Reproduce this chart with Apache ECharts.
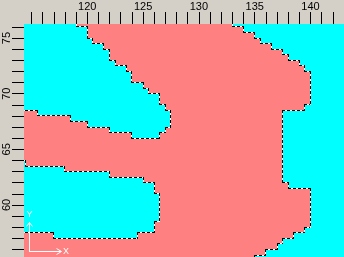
<!DOCTYPE html>
<html><head><meta charset="utf-8">
<script src="https://cdn.jsdelivr.net/npm/echarts@6/dist/echarts.min.js"></script>
<style>html,body{margin:0;padding:0;background:#d4d0c8;}#c{width:344px;height:257px;}</style>
</head><body><div id="c"></div>
<script>
// Row south latitudes (0.5 degree rows, top to bottom)
const rowSouth = [76.0,75.5,75.0,74.5,74.0,73.5,73.0,72.5,72.0,71.5,71.0,70.5,70.0,69.5,69.0,68.5,68.0,67.5,67.0,66.5,66.0,65.5,65.0,64.5,64.0,63.5,63.0,62.5,62.0,61.5,61.0,60.5,60.0,59.5,59.0,58.5,58.0,57.5,57.0,56.5,56.0,55.5,55.0];
// Western cyan run per row (null = none)
const leftCyanFrom = [114,114,114,114,114,114,114,114,114,114,114,114,114,114,114,114,115.5,118.5,120,122,124,null,null,null,null,114,114,114,114,114,114,114,114,114,114,114,114,114,117,null,null,null,null];
const leftCyanTo   = [119,120,120,120.5,121.5,122,122,122.5,123.5,124,124,125,125.5,126.5,126.5,127,127.5,127.5,127.5,127,126.5,null,null,null,null,114.5,118,122,125,126,126,126.5,126.5,126.5,126.5,126.5,126,126,124.5,null,null,null,null];
// Eastern cyan run starts (extends to east edge)
const rightCyanFrom = [133,134,135,135.5,136.5,137.5,138,139,139.5,140,140,140,140,140,140,139.5,137.5,137.5,137.5,137.5,137.5,137.5,137.5,137.5,137.5,137.5,137.5,137.5,137.5,138,140,140,140,140,140,140,140,139.5,138.5,137.5,137,136,135];
const lonWest = 114, lonEast = 143, cellStep = 0.5;
const xTicks = [115,116,117,118,119,120,121,122,123,124,125,126,127,128,129,130,131,132,133,134,135,136,137,138,139,140,141,142];
const xLabels = [120,125,130,135,140];
const yTicks = [56,57,58,59,60,61,62,63,64,65,66,67,68,69,70,71,72,73,74,75,76];
const yLabels = [60,65,70,75];
const classColors = ['#ff8080', '#00ffff'];

// build cell classes
const nCols = Math.round((lonEast - lonWest) / cellStep);
const cls = rowSouth.map((s, r) => {
  const row = [];
  for (let c = 0; c < nCols; c++) {
    const lon = lonWest + c * cellStep + cellStep / 2;
    let cy = lon > rightCyanFrom[r];
    if (leftCyanFrom[r] !== null && lon > leftCyanFrom[r] && lon < leftCyanTo[r]) cy = true;
    row.push(cy ? 1 : 0);
  }
  return row;
});
// fill runs
const fillData = [];
cls.forEach((row, r) => {
  let start = 0;
  for (let c = 1; c <= nCols; c++) {
    if (c === nCols || row[c] !== row[start]) {
      fillData.push([lonWest + start * cellStep, lonWest + c * cellStep, rowSouth[r], rowSouth[r] + cellStep, row[start]]);
      start = c;
    }
  }
});
// boundary segments
const edgeData = [];
for (let r = 0; r < rowSouth.length - 1; r++) {
  let c = 0;
  while (c < nCols) {
    if (cls[r][c] !== cls[r + 1][c]) {
      let e = c;
      while (e < nCols && cls[r][e] !== cls[r + 1][e]) e++;
      edgeData.push([lonWest + c * cellStep, rowSouth[r], lonWest + e * cellStep, rowSouth[r]]);
      c = e;
    } else c++;
  }
}
for (let c = 0; c < nCols - 1; c++) {
  let r = 0;
  while (r < rowSouth.length) {
    if (cls[r][c] !== cls[r][c + 1]) {
      let e = r;
      while (e < rowSouth.length && cls[e][c] !== cls[e][c + 1]) e++;
      const lon = lonWest + (c + 1) * cellStep;
      edgeData.push([lon, rowSouth[r] + cellStep, lon, rowSouth[e - 1]]);
      r = e;
    } else r++;
  }
}

const FONT = 'Liberation Sans';
const chart = echarts.init(document.getElementById('c'), null, {renderer: 'canvas'});
chart.setOption({
  animation: false,
  backgroundColor: '#d4d0c8',
  grid: {left: 24, top: 24, right: 0, bottom: 0, containLabel: false},
  xAxis: {
    type: 'value', position: 'top', min: 114.335, max: 142.996,
    axisLine: {show: false}, splitLine: {show: false},
    axisTick: {show: true, length: 12, customValues: xTicks, lineStyle: {color: '#000', width: 1}},
    axisLabel: {customValues: xLabels, margin: 17, verticalAlign: 'middle', color: '#000', fontFamily: FONT, fontSize: 11}
  },
  yAxis: {
    type: 'value', min: 55.3284, max: 76.2624,
    axisLine: {show: false}, splitLine: {show: false},
    axisTick: {show: true, length: 12, customValues: yTicks, lineStyle: {color: '#000', width: 1}},
    axisLabel: {customValues: yLabels, rotate: 90, margin: 17, align: 'center', verticalAlign: 'middle', color: '#000', fontFamily: FONT, fontSize: 11}
  },
  series: [{
    type: 'custom', clip: true, data: fillData,
    renderItem: (params, api) => {
      const p0 = api.coord([api.value(0), api.value(3)]);
      const p1 = api.coord([api.value(1), api.value(2)]);
      const x0 = Math.floor(p0[0]), x1 = Math.floor(p1[0]);
      const y0 = Math.floor(p0[1]), y1 = Math.floor(p1[1]);
      return {type: 'rect', shape: {x: x0, y: y0, width: x1 - x0, height: y1 - y0}, style: {fill: classColors[api.value(4)], stroke: null}};
    }
  }, {
    type: 'custom', clip: true, data: edgeData,
    renderItem: (params, api) => {
      const a = api.coord([api.value(0), api.value(1)]);
      const b = api.coord([api.value(2), api.value(3)]);
      let shape;
      if (api.value(1) === api.value(3)) {
        const y = Math.floor(a[1]) + 0.5;
        shape = {x1: Math.floor(Math.min(a[0], b[0])), y1: y, x2: Math.floor(Math.max(a[0], b[0])) + 1, y2: y};
      } else {
        const x = Math.floor(a[0]) + 0.5;
        shape = {x1: x, y1: Math.floor(Math.min(a[1], b[1])), x2: x, y2: Math.floor(Math.max(a[1], b[1])) + 1};
      }
      return {type: 'group', children: [
        {type: 'line', shape: shape, style: {stroke: '#ffffff', lineWidth: 1}},
        {type: 'line', shape: shape, style: {stroke: '#000000', lineWidth: 1, lineDash: [3, 2]}}
      ]};
    }
  }],
  graphic: [
    {type: 'line', shape: {x1: 29.5, y1: 222, x2: 29.5, y2: 252}, style: {stroke: '#fff', lineWidth: 1}, z: 100},
    {type: 'line', shape: {x1: 29, y1: 251.5, x2: 61, y2: 251.5}, style: {stroke: '#fff', lineWidth: 1}, z: 100},
    {type: 'polyline', shape: {points: [[26.5, 226.5], [29.5, 222.5], [32.5, 226.5]]}, style: {stroke: '#fff', fill: null, lineWidth: 1}, z: 100},
    {type: 'polyline', shape: {points: [[56.5, 248.5], [61.5, 251.5], [56.5, 254.5]]}, style: {stroke: '#fff', fill: null, lineWidth: 1}, z: 100},
    {type: 'text', x: 29.5, y: 215, style: {text: 'Y', fill: '#fff', font: '9px "Liberation Sans"', align: 'center', verticalAlign: 'middle'}, z: 100},
    {type: 'text', x: 66, y: 251.5, style: {text: 'X', fill: '#fff', font: '9px "Liberation Sans"', align: 'center', verticalAlign: 'middle'}, z: 100}
  ]
});
</script></body></html>
